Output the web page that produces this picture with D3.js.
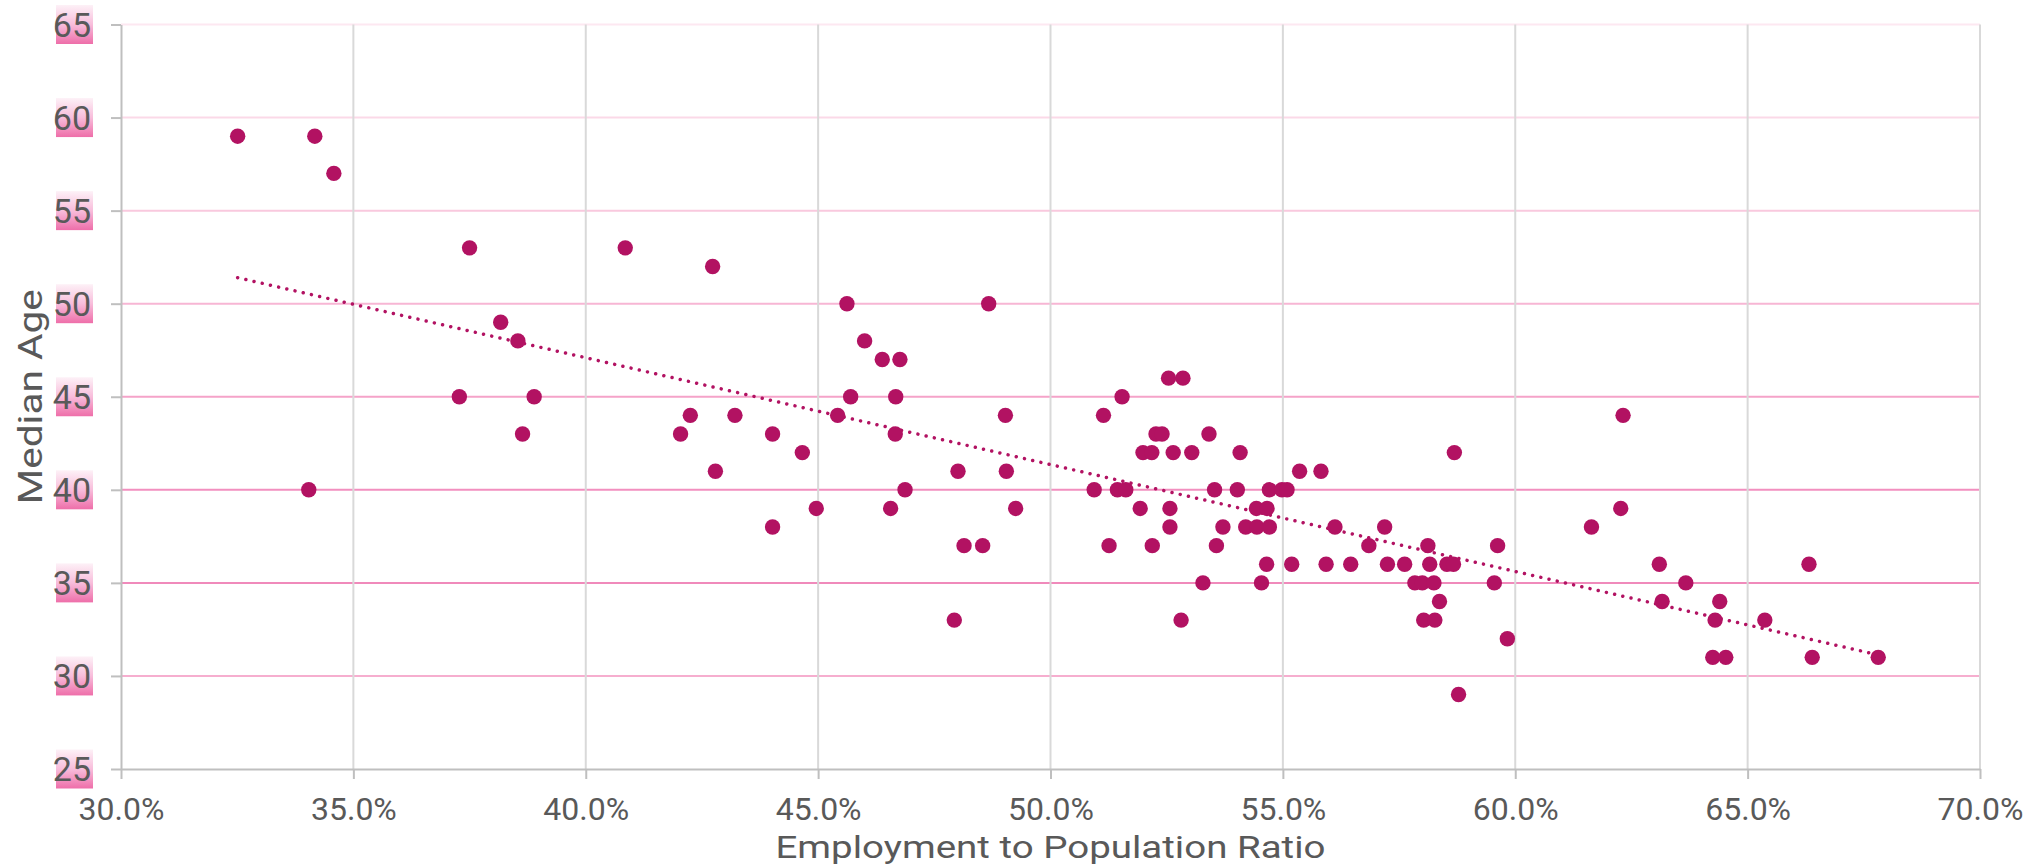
<!DOCTYPE html>
<html>
<head>
<meta charset="utf-8">
<script src="https://cdn.jsdelivr.net/npm/d3@7"></script>
<style>
  html, body { margin: 0; padding: 0; background: #ffffff; }
  svg { display: block; }
  text { font-family: Roboto, "Liberation Sans", sans-serif; fill: #595959; }
</style>
</head>
<body>
<svg id="chart" width="2041" height="866"></svg>
<script>
// ---- data ----
const employmentRatio = [
  32.51,34.17,34.58,34.04,37.50,37.28,38.17,38.54,38.89,38.64,40.85,
  42.73,45.62,48.67,46.00,46.38,46.76,45.70,46.67,42.25,43.21,45.42,49.03,42.04,44.02,46.66,44.66,42.79,48.01,49.05,46.87,44.96,46.56,49.25,44.02,48.14,48.54,47.93,
  52.54,52.85,51.54,51.14,52.27,52.40,53.41,51.99,52.18,52.64,53.04,54.08,55.36,55.82,50.94,51.44,51.62,53.53,54.02,54.71,54.98,55.09,51.93,52.57,54.43,54.66,52.57,53.71,54.20,54.44,54.71,51.26,52.19,53.57,54.65,55.19,53.28,54.54,52.81,
  55.93,56.46,57.25,57.62,58.16,58.53,58.67,58.69,56.12,57.19,56.85,58.12,59.62,57.84,58.00,58.25,59.55,58.37,58.03,58.27,59.83,58.78,
  62.32,62.27,61.64,63.10,66.32,63.67,63.16,64.40,64.30,65.37,64.25,64.53,66.39,67.81
];
const medianAge = [
  59,59,57,40,53,45,49,48,45,43,53,
  52,50,50,48,47,47,45,45,44,44,44,44,43,43,43,42,41,41,41,40,39,39,39,38,37,37,33,
  46,46,45,44,43,43,43,42,42,42,42,42,41,41,40,40,40,40,40,40,40,40,39,39,39,39,38,38,38,38,38,37,37,37,36,36,35,35,33,
  36,36,36,36,36,36,36,42,38,38,37,37,37,35,35,35,35,34,33,33,32,29,
  44,39,38,36,36,35,34,34,33,33,31,31,31,31
];
const xTicks = [30,35,40,45,50,55,60,65,70];
const yTicks = [25,30,35,40,45,50,55,60,65];
const xTitle = "Employment to Population Ratio";
const yTitle = "Median Age";

// ---- styles ----
const gridPink = {30:"#f6aecf",35:"#f08abb",40:"#f28fbf",45:"#f5a3c9",50:"#f7b6d4",55:"#f9c9de",60:"#fbd9e8",65:"#fde8f1"};
const pointColor = "#b21262";

const svg = d3.select("#chart");
const L = 121, R = 1980, T = 24.5, B = 769;
const x = d3.scaleLinear().domain([30,70]).range([L,R]);
const y = d3.scaleLinear().domain([25,65]).range([B,T]);

const defs = svg.append("defs");
const grad = defs.append("linearGradient").attr("id","lblGrad")
  .attr("x1","0").attr("y1","0").attr("x2","0").attr("y2","1");
grad.append("stop").attr("offset","0").attr("stop-color","#fdf1f7");
grad.append("stop").attr("offset","0.5").attr("stop-color","#f8bddb");
grad.append("stop").attr("offset","1").attr("stop-color","#ee6ea9");

// horizontal gridlines
svg.append("g").selectAll("line").data(yTicks.filter(t=>t>25)).join("line")
  .attr("x1",L).attr("x2",R)
  .attr("y1",d=>y(d)).attr("y2",d=>y(d))
  .attr("stroke",d=>gridPink[d]).attr("stroke-width",2);

// vertical gridlines
svg.append("g").selectAll("line").data(xTicks.filter(t=>t>30)).join("line")
  .attr("x1",d=>x(d)).attr("x2",d=>x(d))
  .attr("y1",T).attr("y2",B)
  .attr("stroke","#d9d9d9").attr("stroke-width",2);

// axes
const xAxis = d3.axisBottom(x).tickValues(xTicks).tickSize(10).tickSizeOuter(0).tickPadding(18)
  .tickFormat(d=>d.toFixed(1)+"%");
const gx = svg.append("g").attr("transform",`translate(0,${B})`).call(xAxis);
gx.select(".domain").attr("stroke","#bfbfbf").attr("stroke-width",2);
gx.selectAll(".tick line").attr("stroke","#bfbfbf").attr("stroke-width",2);
gx.selectAll(".tick text").attr("font-size",32).style("font-family","Roboto, 'Liberation Sans', sans-serif").attr("fill","#595959");

const yAxis = d3.axisLeft(y).tickValues(yTicks).tickSize(10).tickSizeOuter(0).tickPadding(20)
  .tickFormat(d=>String(d));
const gy = svg.append("g").attr("transform",`translate(${L},0)`).call(yAxis);
gy.select(".domain").attr("stroke","#bfbfbf").attr("stroke-width",2);
gy.selectAll(".tick line").attr("stroke","#bfbfbf").attr("stroke-width",2);
gy.selectAll(".tick").insert("rect","text")
  .attr("x",-65).attr("y",-20).attr("width",37).attr("height",39)
  .attr("fill","url(#lblGrad)");
gy.selectAll(".tick text").attr("font-size",34).style("font-family","Roboto, 'Liberation Sans', sans-serif").attr("fill","#595959")
  .attr("x",-30).attr("dy","0.34em");

// trendline (least squares)
const n = employmentRatio.length;
const mx = d3.mean(employmentRatio), my = d3.mean(medianAge);
let sxy = 0, sxx = 0;
for (let i=0;i<n;i++){ sxy += (employmentRatio[i]-mx)*(medianAge[i]-my); sxx += (employmentRatio[i]-mx)**2; }
const slope = sxy/sxx, icpt = my - slope*mx;
const x0 = d3.min(employmentRatio), x1 = d3.max(employmentRatio);
svg.append("line")
  .attr("x1",x(x0)).attr("y1",y(icpt+slope*x0))
  .attr("x2",x(x1)).attr("y2",y(icpt+slope*x1))
  .attr("stroke",pointColor).attr("stroke-width",3.5)
  .attr("stroke-linecap","round").attr("stroke-dasharray","0.01 8.4");

// points
svg.append("g").selectAll("circle").data(employmentRatio.map((v,i)=>[v,medianAge[i]])).join("circle")
  .attr("cx",d=>x(d[0])).attr("cy",d=>y(d[1])).attr("r",7.7)
  .attr("fill",pointColor);

// titles
svg.append("text").text(xTitle)
  .attr("x",(L+R)/2).attr("y",858).attr("text-anchor","middle")
  .attr("font-size",31).attr("textLength",550).attr("lengthAdjust","spacingAndGlyphs");
svg.append("text").text(yTitle)
  .attr("transform",`translate(42,${(T+B)/2}) rotate(-90)`).attr("text-anchor","middle")
  .attr("font-size",34).attr("textLength",215).attr("lengthAdjust","spacingAndGlyphs");
</script>
</body>
</html>
